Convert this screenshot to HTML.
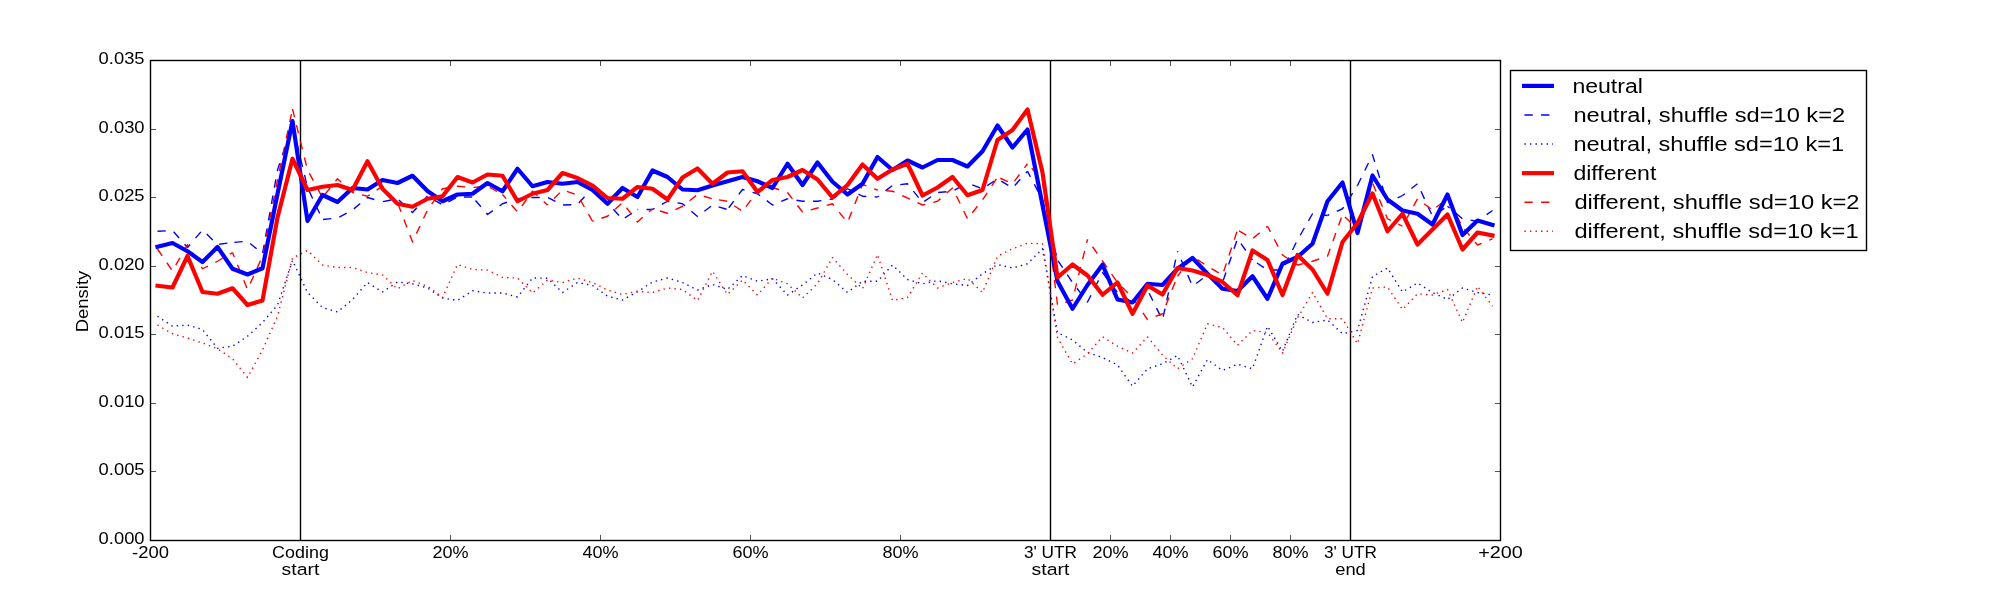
<!DOCTYPE html><html><head><meta charset="utf-8"><style>html,body{margin:0;padding:0;background:#fff;}svg{display:block;will-change:transform;}text{font-family:"Liberation Sans",sans-serif;fill:#000;}</style></head><body>
<svg width="2000" height="600" viewBox="0 0 2000 600">
<rect x="0" y="0" width="2000" height="600" fill="#fff"/>
<line x1="300.5" y1="60" x2="300.5" y2="540" stroke="#000" stroke-width="1.39"/>
<line x1="1050.5" y1="60" x2="1050.5" y2="540" stroke="#000" stroke-width="1.39"/>
<line x1="1350.5" y1="60" x2="1350.5" y2="540" stroke="#000" stroke-width="1.39"/>
<polyline points="157.50,316.25 172.50,326.25 187.50,325.00 202.50,329.50 217.50,348.25 232.50,346.25 247.50,336.25 262.50,322.50 277.50,305.00 292.50,260.50 307.50,292.50 322.50,307.50 337.50,312.00 352.50,299.50 367.50,282.50 382.50,292.00 397.50,282.00 412.50,283.75 427.50,288.00 442.50,298.00 457.50,300.50 472.50,290.75 487.50,293.00 502.50,293.00 517.50,297.00 532.50,278.00 547.50,278.25 562.50,292.50 577.50,282.50 592.50,285.50 607.50,296.25 622.50,300.00 637.50,291.75 652.50,282.00 667.50,278.00 682.50,282.50 697.50,290.00 712.50,284.50 727.50,289.50 742.50,275.50 757.50,281.25 772.50,278.75 787.50,295.00 802.50,285.00 817.50,273.00 832.50,279.50 847.50,292.50 862.50,281.25 877.50,281.25 892.50,265.00 907.50,279.50 922.50,283.75 937.50,280.75 952.50,283.75 967.50,285.50 982.50,273.75 997.50,264.50 1012.50,268.00 1027.50,263.75 1042.50,248.75 1057.50,332.50 1072.50,340.00 1087.50,352.50 1102.50,357.50 1117.50,365.00 1132.50,386.25 1147.50,368.75 1162.50,363.75 1177.50,355.50 1192.50,387.00 1207.50,359.50 1222.50,370.50 1237.50,364.25 1252.50,368.75 1267.50,326.25 1282.50,351.25 1297.50,314.50 1312.50,322.50 1327.50,320.00 1342.50,333.75 1357.50,330.50 1372.50,276.50 1387.50,268.00 1402.50,292.00 1417.50,283.00 1432.50,292.50 1447.50,299.50 1462.50,288.00 1477.50,292.50 1492.50,295.00" fill="none" stroke="#0000ff" stroke-width="1.39" stroke-linejoin="round" stroke-linecap="butt" stroke-dasharray="1.39,4.17"/>
<polyline points="157.50,325.00 172.50,333.75 187.50,338.00 202.50,343.00 217.50,348.75 232.50,358.75 247.50,377.50 262.50,350.00 277.50,316.25 292.50,258.00 307.50,250.50 322.50,265.00 337.50,267.50 352.50,267.50 367.50,272.50 382.50,275.00 397.50,288.75 412.50,280.50 427.50,286.25 442.50,297.50 457.50,264.50 472.50,269.50 487.50,270.00 502.50,277.50 517.50,278.00 532.50,293.00 547.50,280.00 562.50,282.50 577.50,278.00 592.50,282.50 607.50,290.00 622.50,294.50 637.50,291.25 652.50,292.50 667.50,288.00 682.50,289.50 697.50,300.50 712.50,271.25 727.50,294.50 742.50,280.00 757.50,295.00 772.50,278.00 787.50,283.75 802.50,298.00 817.50,283.75 832.50,257.50 847.50,274.50 862.50,288.75 877.50,254.50 892.50,300.50 907.50,297.50 922.50,273.00 937.50,288.00 952.50,282.50 967.50,278.50 982.50,292.50 997.50,256.25 1012.50,248.75 1027.50,243.25 1042.50,243.75 1057.50,337.50 1072.50,364.00 1087.50,353.75 1102.50,336.75 1117.50,346.25 1132.50,353.00 1147.50,337.00 1162.50,355.00 1177.50,368.75 1192.50,358.75 1207.50,323.75 1222.50,327.50 1237.50,345.25 1252.50,330.50 1267.50,332.50 1282.50,353.00 1297.50,318.00 1312.50,292.50 1327.50,318.75 1342.50,318.75 1357.50,343.75 1372.50,288.00 1387.50,287.00 1402.50,309.50 1417.50,293.75 1432.50,295.00 1447.50,289.50 1462.50,322.50 1477.50,286.25 1492.50,306.25" fill="none" stroke="#ff0000" stroke-width="1.39" stroke-linejoin="round" stroke-linecap="butt" stroke-dasharray="1.39,4.17"/>
<polyline points="157.50,231.25 172.50,230.50 187.50,247.50 202.50,230.00 217.50,244.50 232.50,242.50" fill="none" stroke="#0000ff" stroke-width="1.39" stroke-linejoin="round" stroke-linecap="butt" stroke-dasharray="8.33,8.33" stroke-dashoffset="0.00"/>
<polyline points="232.50,242.50 247.50,241.25 262.50,253.75 277.50,170.00 292.50,125.00 307.50,187.50 322.50,219.50" fill="none" stroke="#0000ff" stroke-width="1.39" stroke-linejoin="round" stroke-linecap="butt" stroke-dasharray="8.33,8.33" stroke-dashoffset="14.77"/>
<polyline points="322.50,219.50 337.50,218.00 352.50,210.00 367.50,197.50 382.50,201.75" fill="none" stroke="#0000ff" stroke-width="1.39" stroke-linejoin="round" stroke-linecap="butt" stroke-dasharray="8.33,8.33" stroke-dashoffset="16.17"/>
<polyline points="382.50,201.75 397.50,198.75 412.50,212.50 427.50,196.00" fill="none" stroke="#0000ff" stroke-width="1.39" stroke-linejoin="round" stroke-linecap="butt" stroke-dasharray="8.33,8.33" stroke-dashoffset="16.16"/>
<polyline points="427.50,196.00 442.50,205.00 457.50,197.00 472.50,197.00" fill="none" stroke="#0000ff" stroke-width="1.39" stroke-linejoin="round" stroke-linecap="butt" stroke-dasharray="8.33,8.33" stroke-dashoffset="9.09"/>
<polyline points="472.50,197.00 487.50,214.50 502.50,203.75 517.50,198.75 532.50,197.50 547.50,197.50" fill="none" stroke="#0000ff" stroke-width="1.39" stroke-linejoin="round" stroke-linecap="butt" stroke-dasharray="8.33,8.33" stroke-dashoffset="12.06"/>
<polyline points="547.50,197.50 562.50,205.00 577.50,204.50 592.50,188.00 607.50,202.50 622.50,219.50 637.50,209.50" fill="none" stroke="#0000ff" stroke-width="1.39" stroke-linejoin="round" stroke-linecap="butt" stroke-dasharray="8.33,8.33" stroke-dashoffset="16.11"/>
<polyline points="637.50,209.50 652.50,209.50 667.50,201.25 682.50,203.75 697.50,216.50 712.50,205.00 727.50,209.50" fill="none" stroke="#0000ff" stroke-width="1.39" stroke-linejoin="round" stroke-linecap="butt" stroke-dasharray="8.33,8.33" stroke-dashoffset="7.67"/>
<polyline points="727.50,209.50 742.50,189.50 757.50,193.75 772.50,205.00 787.50,198.75" fill="none" stroke="#0000ff" stroke-width="1.39" stroke-linejoin="round" stroke-linecap="butt" stroke-dasharray="8.33,8.33" stroke-dashoffset="14.50"/>
<polyline points="787.50,198.75 802.50,201.25 817.50,201.25 832.50,199.00 847.50,188.75 862.50,196.25 877.50,197.00" fill="none" stroke="#0000ff" stroke-width="1.39" stroke-linejoin="round" stroke-linecap="butt" stroke-dasharray="8.33,8.33" stroke-dashoffset="7.55"/>
<polyline points="877.50,197.00 892.50,185.50 907.50,183.75 922.50,202.50 937.50,192.50 952.50,191.25 967.50,183.00" fill="none" stroke="#0000ff" stroke-width="1.39" stroke-linejoin="round" stroke-linecap="butt" stroke-dasharray="8.33,8.33" stroke-dashoffset="6.59"/>
<polyline points="967.50,183.00 982.50,188.75 997.50,178.75 1012.50,188.00 1027.50,171.25" fill="none" stroke="#0000ff" stroke-width="1.39" stroke-linejoin="round" stroke-linecap="butt" stroke-dasharray="8.33,8.33" stroke-dashoffset="11.53"/>
<polyline points="1027.50,171.25 1042.50,200.00 1057.50,260.00" fill="none" stroke="#0000ff" stroke-width="1.39" stroke-linejoin="round" stroke-linecap="butt" stroke-dasharray="8.33,8.33" stroke-dashoffset="1.97"/>
<polyline points="1057.50,260.00 1072.50,282.50 1087.50,302.00 1102.50,272.50 1117.50,292.50 1132.50,302.50 1147.50,290.00 1162.50,320.00 1177.50,251.25" fill="none" stroke="#0000ff" stroke-width="1.39" stroke-linejoin="round" stroke-linecap="butt" stroke-dasharray="8.33,8.33" stroke-dashoffset="15.70"/>
<polyline points="1177.50,251.25 1192.50,286.25 1207.50,275.00 1222.50,282.50 1237.50,238.75 1252.50,260.00" fill="none" stroke="#0000ff" stroke-width="1.39" stroke-linejoin="round" stroke-linecap="butt" stroke-dasharray="8.33,8.33" stroke-dashoffset="7.40"/>
<polyline points="1252.50,260.00 1267.50,270.00 1282.50,270.00 1297.50,240.00 1312.50,213.75 1327.50,215.50" fill="none" stroke="#0000ff" stroke-width="1.39" stroke-linejoin="round" stroke-linecap="butt" stroke-dasharray="8.33,8.33" stroke-dashoffset="11.26"/>
<polyline points="1327.50,215.50 1342.50,208.75 1357.50,185.50" fill="none" stroke="#0000ff" stroke-width="1.39" stroke-linejoin="round" stroke-linecap="butt" stroke-dasharray="8.33,8.33" stroke-dashoffset="6.47"/>
<polyline points="1357.50,185.50 1372.50,154.75 1387.50,203.00" fill="none" stroke="#0000ff" stroke-width="1.39" stroke-linejoin="round" stroke-linecap="butt" stroke-dasharray="8.33,8.33" stroke-dashoffset="0.00"/>
<polyline points="1387.50,203.00 1402.50,195.50 1417.50,183.75" fill="none" stroke="#0000ff" stroke-width="1.39" stroke-linejoin="round" stroke-linecap="butt" stroke-dasharray="8.33,8.33" stroke-dashoffset="5.27"/>
<polyline points="1417.50,183.75 1432.50,216.25 1447.50,206.25" fill="none" stroke="#0000ff" stroke-width="1.39" stroke-linejoin="round" stroke-linecap="butt" stroke-dasharray="8.33,8.33" stroke-dashoffset="8.32"/>
<polyline points="1447.50,206.25 1462.50,218.75 1477.50,221.25" fill="none" stroke="#0000ff" stroke-width="1.39" stroke-linejoin="round" stroke-linecap="butt" stroke-dasharray="8.33,8.33" stroke-dashoffset="5.60"/>
<polyline points="1477.50,221.25 1492.50,210.50" fill="none" stroke="#0000ff" stroke-width="1.39" stroke-linejoin="round" stroke-linecap="butt" stroke-dasharray="8.33,8.33" stroke-dashoffset="5.36"/>
<polyline points="157.50,249.00 172.50,271.00 187.50,244.50 202.50,268.75 217.50,261.25 232.50,252.50" fill="none" stroke="#ff0000" stroke-width="1.39" stroke-linejoin="round" stroke-linecap="butt" stroke-dasharray="8.33,8.33" stroke-dashoffset="0.00"/>
<polyline points="232.50,252.50 247.50,289.50 262.50,256.25 277.50,180.00 292.50,109.00" fill="none" stroke="#ff0000" stroke-width="1.39" stroke-linejoin="round" stroke-linecap="butt" stroke-dasharray="8.33,8.33" stroke-dashoffset="3.40"/>
<polyline points="292.50,109.00 307.50,170.00 322.50,197.50" fill="none" stroke="#ff0000" stroke-width="1.39" stroke-linejoin="round" stroke-linecap="butt" stroke-dasharray="8.33,8.33" stroke-dashoffset="0.00"/>
<polyline points="322.50,197.50 337.50,178.75 352.50,192.50 367.50,196.25 382.50,186.25 397.50,202.50" fill="none" stroke="#ff0000" stroke-width="1.39" stroke-linejoin="round" stroke-linecap="butt" stroke-dasharray="8.33,8.33" stroke-dashoffset="12.54"/>
<polyline points="397.50,202.50 412.50,242.00 427.50,210.00 442.50,188.75 457.50,186.25 472.50,187.50 487.50,186.25 502.50,194.50" fill="none" stroke="#ff0000" stroke-width="1.39" stroke-linejoin="round" stroke-linecap="butt" stroke-dasharray="8.33,8.33" stroke-dashoffset="15.10"/>
<polyline points="502.50,194.50 517.50,212.00 532.50,191.25 547.50,205.00" fill="none" stroke="#ff0000" stroke-width="1.39" stroke-linejoin="round" stroke-linecap="butt" stroke-dasharray="8.33,8.33" stroke-dashoffset="2.84"/>
<polyline points="547.50,205.00 562.50,190.00 577.50,195.00 592.50,221.25" fill="none" stroke="#ff0000" stroke-width="1.39" stroke-linejoin="round" stroke-linecap="butt" stroke-dasharray="8.33,8.33" stroke-dashoffset="7.48"/>
<polyline points="592.50,221.25 607.50,216.25 622.50,202.50 637.50,222.00 652.50,208.75" fill="none" stroke="#ff0000" stroke-width="1.39" stroke-linejoin="round" stroke-linecap="butt" stroke-dasharray="8.33,8.33" stroke-dashoffset="7.19"/>
<polyline points="652.50,208.75 667.50,213.25 682.50,206.25 697.50,194.50 712.50,198.75" fill="none" stroke="#ff0000" stroke-width="1.39" stroke-linejoin="round" stroke-linecap="butt" stroke-dasharray="8.33,8.33" stroke-dashoffset="8.84"/>
<polyline points="712.50,198.75 727.50,201.25 742.50,211.25" fill="none" stroke="#ff0000" stroke-width="1.39" stroke-linejoin="round" stroke-linecap="butt" stroke-dasharray="8.33,8.33" stroke-dashoffset="10.08"/>
<polyline points="742.50,211.25 757.50,191.25 772.50,187.50 787.50,192.50" fill="none" stroke="#ff0000" stroke-width="1.39" stroke-linejoin="round" stroke-linecap="butt" stroke-dasharray="8.33,8.33" stroke-dashoffset="10.84"/>
<polyline points="787.50,192.50 802.50,212.00 817.50,208.00 832.50,203.75 847.50,222.50 862.50,184.50 877.50,190.00" fill="none" stroke="#ff0000" stroke-width="1.39" stroke-linejoin="round" stroke-linecap="butt" stroke-dasharray="8.33,8.33" stroke-dashoffset="0.27"/>
<polyline points="877.50,190.00 892.50,191.25 907.50,198.00" fill="none" stroke="#ff0000" stroke-width="1.39" stroke-linejoin="round" stroke-linecap="butt" stroke-dasharray="8.33,8.33" stroke-dashoffset="7.64"/>
<polyline points="907.50,198.00 922.50,205.00 937.50,201.25 952.50,188.00 967.50,218.75" fill="none" stroke="#ff0000" stroke-width="1.39" stroke-linejoin="round" stroke-linecap="butt" stroke-dasharray="8.33,8.33" stroke-dashoffset="5.64"/>
<polyline points="967.50,218.75 982.50,200.00 997.50,177.00" fill="none" stroke="#ff0000" stroke-width="1.39" stroke-linejoin="round" stroke-linecap="butt" stroke-dasharray="8.33,8.33" stroke-dashoffset="8.99"/>
<polyline points="997.50,177.00 1012.50,183.75 1027.50,163.75" fill="none" stroke="#ff0000" stroke-width="1.39" stroke-linejoin="round" stroke-linecap="butt" stroke-dasharray="8.33,8.33" stroke-dashoffset="13.60"/>
<polyline points="1027.50,163.75 1042.50,180.00 1057.50,305.00 1072.50,300.00 1087.50,239.50" fill="none" stroke="#ff0000" stroke-width="1.39" stroke-linejoin="round" stroke-linecap="butt" stroke-dasharray="8.33,8.33" stroke-dashoffset="10.48"/>
<polyline points="1087.50,239.50 1102.50,261.00 1117.50,282.50 1132.50,297.50 1147.50,319.50 1162.50,313.75 1177.50,276.25" fill="none" stroke="#ff0000" stroke-width="1.39" stroke-linejoin="round" stroke-linecap="butt" stroke-dasharray="8.33,8.33" stroke-dashoffset="7.80"/>
<polyline points="1177.50,276.25 1192.50,256.25 1207.50,266.25 1222.50,275.00 1237.50,230.00" fill="none" stroke="#ff0000" stroke-width="1.39" stroke-linejoin="round" stroke-linecap="butt" stroke-dasharray="8.33,8.33" stroke-dashoffset="2.30"/>
<polyline points="1237.50,230.00 1252.50,238.75 1267.50,226.25" fill="none" stroke="#ff0000" stroke-width="1.39" stroke-linejoin="round" stroke-linecap="butt" stroke-dasharray="8.33,8.33" stroke-dashoffset="14.93"/>
<polyline points="1267.50,226.25 1282.50,255.00 1297.50,265.00 1312.50,261.25 1327.50,256.25 1342.50,214.50" fill="none" stroke="#ff0000" stroke-width="1.39" stroke-linejoin="round" stroke-linecap="butt" stroke-dasharray="8.33,8.33" stroke-dashoffset="1.97"/>
<polyline points="1342.50,214.50 1357.50,229.00 1372.50,183.00 1387.50,218.75 1402.50,226.25" fill="none" stroke="#ff0000" stroke-width="1.39" stroke-linejoin="round" stroke-linecap="butt" stroke-dasharray="8.33,8.33" stroke-dashoffset="13.19"/>
<polyline points="1402.50,226.25 1417.50,198.75 1432.50,210.00" fill="none" stroke="#ff0000" stroke-width="1.39" stroke-linejoin="round" stroke-linecap="butt" stroke-dasharray="8.33,8.33" stroke-dashoffset="10.40"/>
<polyline points="1432.50,210.00 1447.50,198.75 1462.50,227.00" fill="none" stroke="#ff0000" stroke-width="1.39" stroke-linejoin="round" stroke-linecap="butt" stroke-dasharray="8.33,8.33" stroke-dashoffset="12.00"/>
<polyline points="1462.50,227.00 1477.50,245.00 1492.50,238.75" fill="none" stroke="#ff0000" stroke-width="1.39" stroke-linejoin="round" stroke-linecap="butt" stroke-dasharray="8.33,8.33" stroke-dashoffset="13.75"/>
<polyline points="157.50,246.75 172.50,243.00 187.50,251.25 202.50,262.00 217.50,247.00 232.50,268.75 247.50,274.50 262.50,268.25 277.50,194.00 292.50,121.00 307.50,221.00 322.50,195.00 337.50,202.00 352.50,188.00 367.50,189.50 382.50,180.00 397.50,183.00 412.50,175.75 427.50,191.00 442.50,201.25 457.50,194.50 472.50,193.75 487.50,183.00 502.50,191.25 517.50,168.75 532.50,186.25 547.50,182.00 562.50,183.75 577.50,182.00 592.50,190.00 607.50,203.75 622.50,188.00 637.50,197.00 652.50,170.50 667.50,177.00 682.50,189.50 697.50,190.25 712.50,185.50 727.50,181.25 742.50,177.00 757.50,181.25 772.50,188.00 787.50,163.75 802.50,185.00 817.50,162.50 832.50,181.75 847.50,194.50 862.50,183.75 877.50,157.00 892.50,170.00 907.50,160.50 922.50,167.50 937.50,160.00 952.50,160.00 967.50,166.50 982.50,151.25 997.50,125.50 1012.50,147.50 1027.50,129.50 1042.50,205.00 1057.50,281.25 1072.50,308.75 1087.50,285.00 1102.50,264.75 1117.50,299.50 1132.50,302.50 1147.50,283.75 1162.50,285.00 1177.50,268.75 1192.50,258.00 1207.50,273.75 1222.50,288.75 1237.50,291.00 1252.50,276.25 1267.50,298.75 1282.50,263.75 1297.50,257.00 1312.50,243.75 1327.50,201.25 1342.50,182.50 1357.50,233.00 1372.50,175.50 1387.50,199.50 1402.50,210.50 1417.50,213.75 1432.50,224.50 1447.50,194.50 1462.50,235.00 1477.50,220.50 1492.50,225.00" fill="none" stroke="#0000ff" stroke-width="4.17" stroke-linejoin="round" stroke-linecap="square"/>
<polyline points="157.50,285.75 172.50,287.50 187.50,256.00 202.50,292.00 217.50,293.75 232.50,288.25 247.50,305.00 262.50,300.50 277.50,217.50 292.50,158.75 307.50,190.00 322.50,186.75 337.50,185.00 352.50,190.00 367.50,161.25 382.50,188.75 397.50,203.75 412.50,206.75 427.50,198.75 442.50,196.25 457.50,177.00 472.50,182.50 487.50,174.50 502.50,175.75 517.50,201.25 532.50,193.75 547.50,190.00 562.50,173.00 577.50,178.00 592.50,185.50 607.50,198.00 622.50,198.75 637.50,187.00 652.50,188.75 667.50,199.50 682.50,177.50 697.50,168.50 712.50,183.75 727.50,172.50 742.50,171.25 757.50,192.00 772.50,180.00 787.50,177.00 802.50,170.00 817.50,179.50 832.50,197.50 847.50,185.00 862.50,164.50 877.50,178.75 892.50,169.50 907.50,163.75 922.50,195.50 937.50,187.50 952.50,177.00 967.50,195.25 982.50,190.00 997.50,140.00 1012.50,130.00 1027.50,109.50 1042.50,172.50 1057.50,277.50 1072.50,264.50 1087.50,275.50 1102.50,294.75 1117.50,282.50 1132.50,313.75 1147.50,285.50 1162.50,294.50 1177.50,268.00 1192.50,270.50 1207.50,275.00 1222.50,282.00 1237.50,295.25 1252.50,250.50 1267.50,260.00 1282.50,295.00 1297.50,255.00 1312.50,269.50 1327.50,293.75 1342.50,242.00 1357.50,223.00 1372.50,193.50 1387.50,231.25 1402.50,213.75 1417.50,244.50 1432.50,229.50 1447.50,214.50 1462.50,249.50 1477.50,232.50 1492.50,235.50" fill="none" stroke="#ff0000" stroke-width="4.17" stroke-linejoin="round" stroke-linecap="square"/>
<rect x="150.5" y="60.5" width="1350" height="480" fill="none" stroke="#000" stroke-width="1.39"/>
<line x1="150.5" y1="540.50" x2="156.06" y2="540.50" stroke="#000" stroke-width="0.69"/>
<line x1="1494.94" y1="540.50" x2="1500.5" y2="540.50" stroke="#000" stroke-width="0.69"/>
<text x="144.6" y="544.40" font-size="16.67" text-anchor="end" textLength="45.96" lengthAdjust="spacingAndGlyphs">0.000</text>
<line x1="150.5" y1="471.50" x2="156.06" y2="471.50" stroke="#000" stroke-width="0.69"/>
<line x1="1494.94" y1="471.50" x2="1500.5" y2="471.50" stroke="#000" stroke-width="0.69"/>
<text x="144.6" y="475.40" font-size="16.67" text-anchor="end" textLength="45.96" lengthAdjust="spacingAndGlyphs">0.005</text>
<line x1="150.5" y1="403.50" x2="156.06" y2="403.50" stroke="#000" stroke-width="0.69"/>
<line x1="1494.94" y1="403.50" x2="1500.5" y2="403.50" stroke="#000" stroke-width="0.69"/>
<text x="144.6" y="407.40" font-size="16.67" text-anchor="end" textLength="45.96" lengthAdjust="spacingAndGlyphs">0.010</text>
<line x1="150.5" y1="334.50" x2="156.06" y2="334.50" stroke="#000" stroke-width="0.69"/>
<line x1="1494.94" y1="334.50" x2="1500.5" y2="334.50" stroke="#000" stroke-width="0.69"/>
<text x="144.6" y="338.40" font-size="16.67" text-anchor="end" textLength="45.96" lengthAdjust="spacingAndGlyphs">0.015</text>
<line x1="150.5" y1="266.50" x2="156.06" y2="266.50" stroke="#000" stroke-width="0.69"/>
<line x1="1494.94" y1="266.50" x2="1500.5" y2="266.50" stroke="#000" stroke-width="0.69"/>
<text x="144.6" y="270.40" font-size="16.67" text-anchor="end" textLength="45.96" lengthAdjust="spacingAndGlyphs">0.020</text>
<line x1="150.5" y1="197.50" x2="156.06" y2="197.50" stroke="#000" stroke-width="0.69"/>
<line x1="1494.94" y1="197.50" x2="1500.5" y2="197.50" stroke="#000" stroke-width="0.69"/>
<text x="144.6" y="201.40" font-size="16.67" text-anchor="end" textLength="45.96" lengthAdjust="spacingAndGlyphs">0.025</text>
<line x1="150.5" y1="129.50" x2="156.06" y2="129.50" stroke="#000" stroke-width="0.69"/>
<line x1="1494.94" y1="129.50" x2="1500.5" y2="129.50" stroke="#000" stroke-width="0.69"/>
<text x="144.6" y="133.40" font-size="16.67" text-anchor="end" textLength="45.96" lengthAdjust="spacingAndGlyphs">0.030</text>
<line x1="150.5" y1="60.50" x2="156.06" y2="60.50" stroke="#000" stroke-width="0.69"/>
<line x1="1494.94" y1="60.50" x2="1500.5" y2="60.50" stroke="#000" stroke-width="0.69"/>
<text x="144.6" y="64.40" font-size="16.67" text-anchor="end" textLength="45.96" lengthAdjust="spacingAndGlyphs">0.035</text>
<line x1="150.5" y1="540.5" x2="150.5" y2="534.94" stroke="#000" stroke-width="0.69"/>
<line x1="150.5" y1="60.5" x2="150.5" y2="66.06" stroke="#000" stroke-width="0.69"/>
<text x="150.5" y="558" font-size="16.67" text-anchor="middle" textLength="36.89" lengthAdjust="spacingAndGlyphs">-200</text>
<line x1="300.5" y1="540.5" x2="300.5" y2="534.94" stroke="#000" stroke-width="0.69"/>
<line x1="300.5" y1="60.5" x2="300.5" y2="66.06" stroke="#000" stroke-width="0.69"/>
<text x="300.5" y="558" font-size="16.67" text-anchor="middle" textLength="56.74" lengthAdjust="spacingAndGlyphs">Coding</text>
<text x="300.5" y="575" font-size="16.67" text-anchor="middle" textLength="37.86" lengthAdjust="spacingAndGlyphs">start</text>
<line x1="450.5" y1="540.5" x2="450.5" y2="534.94" stroke="#000" stroke-width="0.69"/>
<line x1="450.5" y1="60.5" x2="450.5" y2="66.06" stroke="#000" stroke-width="0.69"/>
<text x="450.5" y="558" font-size="16.67" text-anchor="middle" textLength="36.13" lengthAdjust="spacingAndGlyphs">20%</text>
<line x1="600.5" y1="540.5" x2="600.5" y2="534.94" stroke="#000" stroke-width="0.69"/>
<line x1="600.5" y1="60.5" x2="600.5" y2="66.06" stroke="#000" stroke-width="0.69"/>
<text x="600.5" y="558" font-size="16.67" text-anchor="middle" textLength="36.13" lengthAdjust="spacingAndGlyphs">40%</text>
<line x1="750.5" y1="540.5" x2="750.5" y2="534.94" stroke="#000" stroke-width="0.69"/>
<line x1="750.5" y1="60.5" x2="750.5" y2="66.06" stroke="#000" stroke-width="0.69"/>
<text x="750.5" y="558" font-size="16.67" text-anchor="middle" textLength="36.13" lengthAdjust="spacingAndGlyphs">60%</text>
<line x1="900.5" y1="540.5" x2="900.5" y2="534.94" stroke="#000" stroke-width="0.69"/>
<line x1="900.5" y1="60.5" x2="900.5" y2="66.06" stroke="#000" stroke-width="0.69"/>
<text x="900.5" y="558" font-size="16.67" text-anchor="middle" textLength="36.13" lengthAdjust="spacingAndGlyphs">80%</text>
<line x1="1050.5" y1="540.5" x2="1050.5" y2="534.94" stroke="#000" stroke-width="0.69"/>
<line x1="1050.5" y1="60.5" x2="1050.5" y2="66.06" stroke="#000" stroke-width="0.69"/>
<text x="1050.5" y="558" font-size="16.67" text-anchor="middle" textLength="53.09" lengthAdjust="spacingAndGlyphs">3&#39; UTR</text>
<text x="1050.5" y="575" font-size="16.67" text-anchor="middle" textLength="37.86" lengthAdjust="spacingAndGlyphs">start</text>
<line x1="1110.5" y1="540.5" x2="1110.5" y2="534.94" stroke="#000" stroke-width="0.69"/>
<line x1="1110.5" y1="60.5" x2="1110.5" y2="66.06" stroke="#000" stroke-width="0.69"/>
<text x="1110.5" y="558" font-size="16.67" text-anchor="middle" textLength="36.13" lengthAdjust="spacingAndGlyphs">20%</text>
<line x1="1170.5" y1="540.5" x2="1170.5" y2="534.94" stroke="#000" stroke-width="0.69"/>
<line x1="1170.5" y1="60.5" x2="1170.5" y2="66.06" stroke="#000" stroke-width="0.69"/>
<text x="1170.5" y="558" font-size="16.67" text-anchor="middle" textLength="36.13" lengthAdjust="spacingAndGlyphs">40%</text>
<line x1="1230.5" y1="540.5" x2="1230.5" y2="534.94" stroke="#000" stroke-width="0.69"/>
<line x1="1230.5" y1="60.5" x2="1230.5" y2="66.06" stroke="#000" stroke-width="0.69"/>
<text x="1230.5" y="558" font-size="16.67" text-anchor="middle" textLength="36.13" lengthAdjust="spacingAndGlyphs">60%</text>
<line x1="1290.5" y1="540.5" x2="1290.5" y2="534.94" stroke="#000" stroke-width="0.69"/>
<line x1="1290.5" y1="60.5" x2="1290.5" y2="66.06" stroke="#000" stroke-width="0.69"/>
<text x="1290.5" y="558" font-size="16.67" text-anchor="middle" textLength="36.13" lengthAdjust="spacingAndGlyphs">80%</text>
<line x1="1350.5" y1="540.5" x2="1350.5" y2="534.94" stroke="#000" stroke-width="0.69"/>
<line x1="1350.5" y1="60.5" x2="1350.5" y2="66.06" stroke="#000" stroke-width="0.69"/>
<text x="1350.5" y="558" font-size="16.67" text-anchor="middle" textLength="53.09" lengthAdjust="spacingAndGlyphs">3&#39; UTR</text>
<text x="1350.5" y="575" font-size="16.67" text-anchor="middle" textLength="30.62" lengthAdjust="spacingAndGlyphs">end</text>
<line x1="1500.5" y1="540.5" x2="1500.5" y2="534.94" stroke="#000" stroke-width="0.69"/>
<line x1="1500.5" y1="60.5" x2="1500.5" y2="66.06" stroke="#000" stroke-width="0.69"/>
<text x="1500.5" y="558" font-size="16.67" text-anchor="middle" textLength="44.64" lengthAdjust="spacingAndGlyphs">+200</text>
<text transform="translate(87.5,301.5) rotate(-90)" x="0" y="0" font-size="16.67" text-anchor="middle" textLength="61.47" lengthAdjust="spacingAndGlyphs">Density</text>
<rect x="1510.5" y="70.5" width="356" height="180" fill="#fff" stroke="#000" stroke-width="1.39"/>
<line x1="1522" y1="85.90" x2="1554" y2="85.90" stroke="#0000ff" stroke-width="4.17"/>
<text x="1572.40" y="93.25" font-size="20.0" textLength="70.53" lengthAdjust="spacingAndGlyphs">neutral</text>
<line x1="1524.4" y1="114.98" x2="1553" y2="114.98" stroke="#0000ff" stroke-width="1.39" stroke-dasharray="8.33,8.33" stroke-linecap="butt"/>
<text x="1573.40" y="122.20" font-size="20.0" textLength="271.76" lengthAdjust="spacingAndGlyphs">neutral, shuffle sd=10 k=2</text>
<line x1="1524.4" y1="144.06" x2="1553" y2="144.06" stroke="#0000ff" stroke-width="1.39" stroke-dasharray="1.39,4.17" stroke-linecap="butt"/>
<text x="1573.40" y="151.15" font-size="20.0" textLength="270.76" lengthAdjust="spacingAndGlyphs">neutral, shuffle sd=10 k=1</text>
<line x1="1522" y1="173.14" x2="1554" y2="173.14" stroke="#ff0000" stroke-width="4.17"/>
<text x="1573.40" y="180.10" font-size="20.0" textLength="82.94" lengthAdjust="spacingAndGlyphs">different</text>
<line x1="1524.4" y1="202.22" x2="1553" y2="202.22" stroke="#ff0000" stroke-width="1.39" stroke-dasharray="8.33,8.33" stroke-linecap="butt"/>
<text x="1574.40" y="209.05" font-size="20.0" textLength="285.17" lengthAdjust="spacingAndGlyphs">different, shuffle sd=10 k=2</text>
<line x1="1524.4" y1="231.30" x2="1553" y2="231.30" stroke="#ff0000" stroke-width="1.39" stroke-dasharray="1.39,4.17" stroke-linecap="butt"/>
<text x="1574.40" y="238.00" font-size="20.0" textLength="284.17" lengthAdjust="spacingAndGlyphs">different, shuffle sd=10 k=1</text>
</svg></body></html>
